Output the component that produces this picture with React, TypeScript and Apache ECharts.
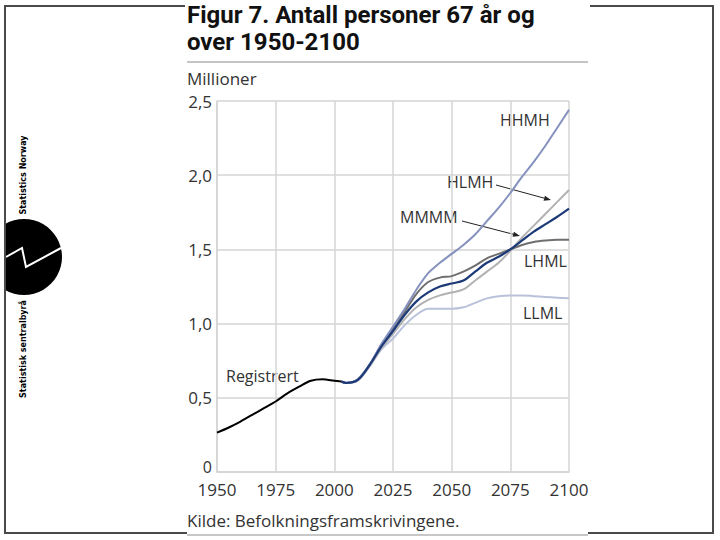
import React, { useEffect, useRef } from "react";
import * as echarts from "echarts";

const registrertYears = [1950, 1955, 1960, 1965, 1970, 1975, 1980, 1985, 1990, 1995, 2000, 2003];
const registrert = [0.265, 0.3, 0.34, 0.385, 0.43, 0.475, 0.53, 0.575, 0.615, 0.625, 0.615, 0.61];

const projYears = [2003, 2005, 2010, 2015, 2020, 2025, 2030, 2035, 2040, 2045, 2050, 2055, 2060, 2065, 2070, 2075, 2080, 2085, 2090, 2095, 2100];
const HHMH = [0.61, 0.6, 0.625, 0.725, 0.86, 0.98, 1.1, 1.23, 1.34, 1.41, 1.47, 1.53, 1.6, 1.69, 1.78, 1.88, 1.99, 2.09, 2.2, 2.32, 2.44];
const LHML = [0.61, 0.6, 0.625, 0.72, 0.855, 0.97, 1.08, 1.2, 1.28, 1.31, 1.32, 1.35, 1.39, 1.44, 1.47, 1.5, 1.53, 1.55, 1.56, 1.565, 1.565];
const MMMM = [0.61, 0.6, 0.62, 0.72, 0.845, 0.95, 1.06, 1.15, 1.21, 1.25, 1.27, 1.29, 1.35, 1.41, 1.45, 1.5, 1.56, 1.62, 1.67, 1.72, 1.775];
const HLMH = [0.61, 0.6, 0.62, 0.715, 0.835, 0.93, 1.03, 1.11, 1.16, 1.19, 1.21, 1.23, 1.29, 1.35, 1.41, 1.49, 1.58, 1.66, 1.74, 1.82, 1.9];
const LLML = [0.61, 0.6, 0.615, 0.71, 0.825, 0.9, 0.99, 1.06, 1.1, 1.1, 1.1, 1.11, 1.14, 1.17, 1.185, 1.19, 1.19, 1.185, 1.18, 1.175, 1.17];

const xTicks = { min: 1950, max: 2100, interval: 25 };
const yTicks = { min: 0, max: 2.5, interval: 0.5 };

const TITLE = "Figur 7. Antall personer 67 år og\nover 1950-2100";
const UNIT = "Millioner";
const SOURCE = "Kilde: Befolkningsframskrivingene.";

const pair = (xs: number[], ys: number[]) => xs.map((x, i) => [x, ys[i]]);

const LIGHT_FONT = "'Open Sans', 'Noto Sans', sans-serif";
const TITLE_FONT = "'Roboto', sans-serif";

function arrow(x1: number, y1: number, x2: number, y2: number) {
  const dx = x2 - x1, dy = y2 - y1;
  const len = Math.sqrt(dx * dx + dy * dy);
  const ux = dx / len, uy = dy / len;
  const hl = 7, hw = 2.6;
  const bx = x2 - ux * hl, by = y2 - uy * hl;
  return [
    { type: "line", shape: { x1, y1, x2: bx, y2: by }, style: { stroke: "#222", lineWidth: 1 } },
    {
      type: "polygon",
      shape: { points: [[x2, y2], [bx - uy * hw, by + ux * hw], [bx + uy * hw, by - ux * hw]] },
      style: { fill: "#222" },
    },
  ];
}

export default function App() {
  const ref = useRef<HTMLDivElement>(null);
  useEffect(() => {
    if (!ref.current) return;
    const chart = echarts.init(ref.current, undefined, { renderer: "svg" });
    const lineSeries = (name: string, data: number[], color: string, width: number, z: number) => ({
      name,
      type: "line",
      data: pair(projYears, data),
      smooth: 0.3,
      showSymbol: false,
      symbol: "none",
      lineStyle: { color, width },
      z,
    });
    const border = "#4a4a4a";
    const labelStyle = { fill: "#333", fontFamily: LIGHT_FONT, fontSize: 16 };
    chart.setOption({
      animation: false,
      grid: { left: 217, right: 151, top: 101, bottom: 68 },
      xAxis: {
        type: "value",
        min: xTicks.min,
        max: xTicks.max,
        interval: xTicks.interval,
        axisLine: { show: true, lineStyle: { color: "#d4d4d4", width: 1.5 } },
        axisTick: { show: false },
        splitLine: { show: true, lineStyle: { color: "#d4d4d4", width: 1.5 } },
        axisLabel: {
          formatter: (v: number) => String(v),
          color: "#333",
          fontFamily: LIGHT_FONT,
          fontSize: 17,
          lineHeight: 15,
          margin: 10,
        },
      },
      yAxis: {
        type: "value",
        min: yTicks.min,
        max: yTicks.max,
        interval: yTicks.interval,
        axisLine: { show: true, lineStyle: { color: "#d4d4d4", width: 1.5 } },
        axisTick: { show: false },
        splitLine: { show: true, lineStyle: { color: "#d4d4d4", width: 1.5 } },
        axisLabel: {
          formatter: (v: number) => (v === 0 ? "{z|0}" : v.toFixed(1).replace(".", ",")),
          color: "#333",
          fontFamily: LIGHT_FONT,
          fontSize: 17,
          lineHeight: 17,
          margin: 5,
          rich: { z: { fontFamily: LIGHT_FONT, fontSize: 16, lineHeight: 12, color: "#333", padding: [0, 0, 10, 0] } },
        },
      },
      series: [
        {
          name: "Registrert",
          type: "line",
          data: pair(registrertYears, registrert),
          smooth: 0.3,
          showSymbol: false,
          symbol: "none",
          lineStyle: { color: "#000", width: 2 },
          z: 10,
        },
        lineSeries("LLML", LLML, "#b9c1db", 2, 3),
        lineSeries("HLMH", HLMH, "#b2b2b2", 2, 4),
        lineSeries("LHML", LHML, "#6f6f6f", 2, 5),
        lineSeries("HHMH", HHMH, "#8591be", 2, 6),
        lineSeries("MMMM", MMMM, "#1d3a78", 2.2, 7),
      ],
      graphic: [
        // frame
        { type: "line", shape: { x1: 5, y1: 6, x2: 185, y2: 6 }, style: { stroke: border, lineWidth: 2 } },
        { type: "line", shape: { x1: 590, y1: 6, x2: 713, y2: 6 }, style: { stroke: border, lineWidth: 2 } },
        { type: "line", shape: { x1: 5, y1: 533, x2: 187, y2: 533 }, style: { stroke: border, lineWidth: 2 } },
        { type: "line", shape: { x1: 588, y1: 533, x2: 713, y2: 533 }, style: { stroke: border, lineWidth: 2 } },
        { type: "line", shape: { x1: 187, y1: 62, x2: 588, y2: 62 }, style: { stroke: "#b0b0b0", lineWidth: 1.5 } },
        { type: "line", shape: { x1: 187, y1: 535, x2: 588, y2: 535 }, style: { stroke: "#909090", lineWidth: 1.2 } },
        // logo
        { type: "circle", shape: { cx: 24, cy: 257, r: 38 }, style: { fill: "#000" } },
        { type: "rect", shape: { x: 0, y: 200, width: 5, height: 120 }, style: { fill: "#fff" } },
        {
          type: "polyline",
          shape: { points: [[6, 257], [22, 248], [26, 267], [61, 248]] },
          style: { stroke: "#fff", lineWidth: 2, fill: null },
        },
        { type: "line", shape: { x1: 5, y1: 5, x2: 5, y2: 534 }, style: { stroke: border, lineWidth: 2 } },
        { type: "line", shape: { x1: 713, y1: 5, x2: 713, y2: 534 }, style: { stroke: border, lineWidth: 2 } },
        {
          type: "text",
          x: 23,
          y: 175,
          rotation: Math.PI / 2,
          style: { text: "Statistics Norway", fontFamily: "'DejaVu Sans', sans-serif", fontWeight: "bold", fontSize: 8, fill: "#000", align: "center", verticalAlign: "middle" },
        },
        {
          type: "text",
          x: 23,
          y: 349,
          rotation: Math.PI / 2,
          style: { text: "Statistisk sentralbyrå", fontFamily: "'DejaVu Sans', sans-serif", fontWeight: "bold", fontSize: 8, fill: "#000", align: "center", verticalAlign: "middle" },
        },
        // title
        {
          type: "text",
          x: 187,
          y: 1,
          style: { text: TITLE, fontFamily: TITLE_FONT, fontWeight: "bold", fontSize: 24, lineHeight: 27, fill: "#111", align: "left", verticalAlign: "top" },
        },
        { type: "text", x: 187, y: 78, style: { text: UNIT, ...labelStyle, fontSize: 17, align: "left", verticalAlign: "middle" } },
        { type: "text", x: 187, y: 520, style: { text: SOURCE, ...labelStyle, fontSize: 17, align: "left", verticalAlign: "middle" } },
        // series labels
        { type: "text", x: 500, y: 120, style: { text: "HHMH", ...labelStyle, align: "left", verticalAlign: "middle" } },
        { type: "text", x: 447, y: 182, style: { text: "HLMH", ...labelStyle, align: "left", verticalAlign: "middle" } },
        { type: "text", x: 400, y: 217, style: { text: "MMMM", ...labelStyle, align: "left", verticalAlign: "middle" } },
        { type: "text", x: 524, y: 261, style: { text: "LHML", ...labelStyle, align: "left", verticalAlign: "middle" } },
        { type: "text", x: 523, y: 313, style: { text: "LLML", ...labelStyle, align: "left", verticalAlign: "middle" } },
        { type: "text", x: 226, y: 376, style: { text: "Registrert", ...labelStyle, align: "left", verticalAlign: "middle" } },
        ...arrow(496, 185, 551, 200),
        ...arrow(462, 221, 520, 236),
      ],
    });
    return () => chart.dispose();
  }, []);
  return (
    <div
      ref={ref}
      style={{ position: "fixed", left: 0, top: 0, width: 720, height: 540, background: "#fff" }}
    />
  );
}
